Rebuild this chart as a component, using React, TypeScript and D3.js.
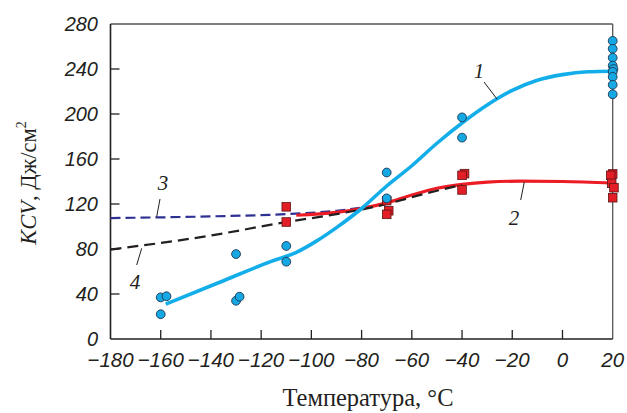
import React from "react";
import * as d3 from "d3";

const W = 627;
const H = 413;

const xTicks = [-180, -160, -140, -120, -100, -80, -60, -40, -20, 0, 20];
const yTicks = [0, 40, 80, 120, 160, 200, 240, 280];

// blue circles: [temperature, KCV]
const bluePoints: [number, number][] = [
  [-160, 37], [-157.7, 38], [-160, 22],
  [-130, 75.5], [-130, 34], [-128.6, 37.6],
  [-110, 82.7], [-110, 68.7],
  [-70, 148], [-70, 125],
  [-40, 197], [-40, 179],
  [20, 265], [20, 258], [20, 250], [20, 243], [20.3, 240], [20, 237.5], [20, 233], [20, 226], [20, 217.5],
];

// red squares
const redPoints: [number, number][] = [
  [-110, 117.5], [-110, 104],
  [-70, 123], [-69.2, 114], [-70, 110.8],
  [-39, 147], [-40, 145.5], [-40, 132.5],
  [20, 146.7], [19.2, 145.5], [19.6, 138.4], [20.5, 134.5], [20, 125.6],
];

// curve 1 (blue)
const curve1: [number, number][] = [
  [-158, 31], [-137, 50], [-116, 69], [-106, 77], [-98, 87], [-90, 99],
  [-80, 116], [-70, 136], [-60, 154], [-50, 174], [-40, 192], [-30, 208],
  [-20, 221], [-10, 230], [0, 235], [10, 237.5], [20, 238],
];

// curve 2 (red)
const curve2: [number, number][] = [
  [-106, 110], [-90, 112.5], [-80, 116], [-70, 121], [-60, 128], [-50, 134],
  [-40, 137.5], [-30, 139.5], [-17, 140.3], [0, 140], [20, 138.5],
];

// curve 3 (navy dashed)
const curve3: [number, number][] = [
  [-180, 107.5], [-140, 109], [-110, 111], [-90, 114], [-70, 120],
];

// curve 4 (black dashed)
const curve4: [number, number][] = [
  [-180, 79.5], [-140, 92], [-110, 104], [-90, 111], [-70, 120], [-55, 129], [-40, 137],
];

export default function App() {
  const left = 110.5, right = 612.7, top = 24, bottom = 339;
  const x = d3.scaleLinear().domain([-180, 20]).range([left, right]);
  const y = d3.scaleLinear().domain([0, 280]).range([bottom, top]);
  const line = d3.line<[number, number]>().x(d => x(d[0])).y(d => y(d[1])).curve(d3.curveMonotoneX);

  const fmt = (v: number) => (v < 0 ? "\u2212" + Math.abs(v) : String(v));
  const sans = "'Liberation Sans', Arial, sans-serif";
  const serif = "'Liberation Serif', 'Times New Roman', serif";
  const sq = 8.6;

  return (
    <svg width={W} height={H} style={{ position: "absolute", left: 0, top: 0, background: "#fff" }}>
      {/* frame */}
      <line x1={left} y1={top} x2={right} y2={top} stroke="#555" strokeWidth={1.3} />
      <line x1={right} y1={top} x2={right} y2={bottom} stroke="#555" strokeWidth={1.3} />
      <line x1={left} y1={top} x2={left} y2={bottom} stroke="#231f20" strokeWidth={1.6} />
      <line x1={left} y1={bottom} x2={right} y2={bottom} stroke="#231f20" strokeWidth={1.6} />

      {yTicks.map(t => (
        <g key={"y" + t}>
          {t > 0 && t < 280 && (
            <line x1={left} x2={left + 9} y1={y(t)} y2={y(t)} stroke="#231f20" strokeWidth={1.3} />
          )}
          <text x={98} y={y(t)} dy="0.36em" textAnchor="end" fontFamily={sans} fontStyle="italic"
            fontSize={20} fill="#231f20">{fmt(t)}</text>
        </g>
      ))}
      {xTicks.map(t => (
        <g key={"x" + t}>
          {t > -180 && t < 20 && (
            <line x1={x(t)} x2={x(t)} y1={bottom} y2={bottom - 9} stroke="#231f20" strokeWidth={1.3} />
          )}
          <text x={x(t)} y={367} textAnchor="middle" fontFamily={sans} fontStyle="italic"
            fontSize={20.5} fill="#231f20">{fmt(t)}</text>
        </g>
      ))}

      {/* axis titles */}
      <text x={368} y={406} textAnchor="middle" fontFamily={serif} fontSize={24.5} fill="#231f20">
        Температура, °C
      </text>
      <text transform="translate(36,183) rotate(-90)" textAnchor="middle" fontFamily={serif}
        fontSize={22.5} fill="#231f20">
        <tspan fontStyle="italic">KCV</tspan>
        <tspan>, Дж/см</tspan>
        <tspan dy={-10} fontSize={14}>2</tspan>
      </text>

      {/* curves */}
      <path d={line(curve3) || ""} fill="none" stroke="#2e3192" strokeWidth={2.2} strokeDasharray="10,5" />
      <path d={line(curve2) || ""} fill="none" stroke="#ec1c24" strokeWidth={3.2} />
      <path d={line(curve4) || ""} fill="none" stroke="#231f20" strokeWidth={2.2} strokeDasharray="11,6" />
      <path d={line(curve1) || ""} fill="none" stroke="#13aee9" strokeWidth={3.6} />

      {/* markers */}
      {redPoints.map((p, i) => (
        <rect key={"r" + i} x={x(p[0]) - sq / 2} y={y(p[1]) - sq / 2} width={sq} height={sq}
          fill="#e31e26" stroke="#5a1416" strokeWidth={0.8} />
      ))}
      {bluePoints.map((p, i) => (
        <circle key={"b" + i} cx={x(p[0])} cy={y(p[1])} r={4.4} fill="#16a8e3" stroke="#1c3550" strokeWidth={0.9} />
      ))}

      {/* curve labels */}
      <g fontFamily={serif} fontStyle="italic" fontSize={21} fill="#231f20" textAnchor="middle">
        <text x={479} y={78}>1</text>
        <line x1={484} y1={82} x2={497} y2={99} stroke="#231f20" strokeWidth={1} />
        <text x={514} y={225}>2</text>
        <line x1={520.7} y1={200} x2={524.3} y2={182} stroke="#231f20" strokeWidth={1} />
        <text x={163} y={190}>3</text>
        <line x1={160} y1={199} x2={156.7} y2={216.7} stroke="#231f20" strokeWidth={1} />
        <text x={135} y={289}>4</text>
        <line x1={141.7} y1={248.3} x2={136.7} y2={265} stroke="#231f20" strokeWidth={1} />
      </g>
    </svg>
  );
}
